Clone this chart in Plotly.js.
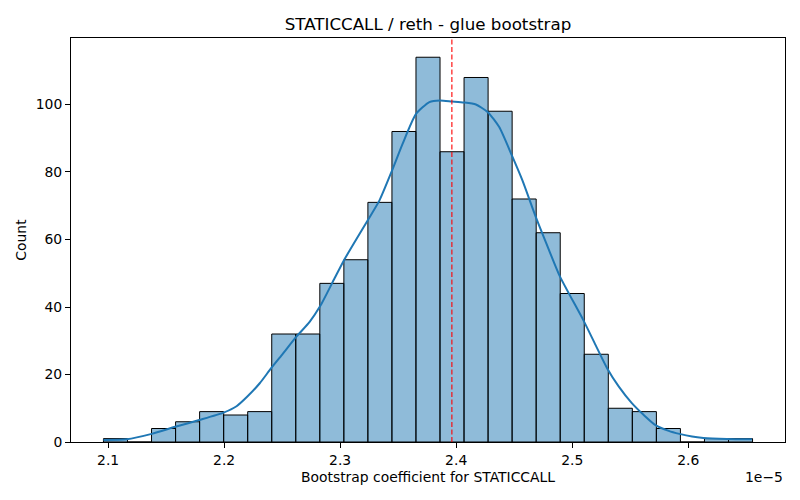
<!DOCTYPE html>
<html>
<head>
<meta charset="utf-8">
<script src="https://cdn.plot.ly/plotly-3.0.1.min.js"></script>
<style>html,body{margin:0;padding:0;background:#fff;}#chart{width:800px;height:500px;}</style>
</head>
<body>
<div id="chart"></div>
<script>
// Values in units of 1e-5
const binStart = 2.0960;
const binWidth = 0.02072;
const counts = [1, 0, 4, 6, 9, 8, 9, 32, 32, 47, 54, 71, 92, 114, 86, 108, 98, 72, 62, 44, 26, 10, 9, 4, 0, 1, 1];
const kdeX = [2.0960, 2.1161, 2.1376, 2.1579, 2.1785, 2.1995, 2.2107, 2.2198, 2.2307, 2.2404, 2.2507, 2.2623, 2.2737, 2.2832, 2.2952, 2.3032, 2.3238, 2.3339, 2.3448, 2.3539, 2.3654, 2.3769, 2.3861, 2.3964, 2.4067, 2.4170, 2.4273, 2.4371, 2.4480, 2.4571, 2.4686, 2.4801, 2.4895, 2.5096, 2.5202, 2.5302, 2.5402, 2.5512, 2.5617, 2.5718, 2.5832, 2.5924, 2.6033, 2.6131, 2.6334, 2.6549];
const kdeY = [0.6, 0.8, 2.4, 4.5, 6.5, 8.7, 10.6, 13.4, 17.4, 21.8, 26.2, 31.2, 35.6, 40.5, 48.5, 53.8, 65.7, 71.6, 80.5, 88.4, 97.2, 100.7, 101.2, 100.9, 100.6, 100.0, 97.7, 93.3, 84.9, 77.5, 66.7, 56.8, 49.0, 36.1, 28.7, 21.8, 16.4, 11.6, 8.0, 5.0, 3.3, 2.4, 1.6, 1.2, 0.9, 0.8];
const meanValue = 2.3963;
const xTicks = [2.1, 2.2, 2.3, 2.4, 2.5, 2.6];
const xTickText = ["2.1", "2.2", "2.3", "2.4", "2.5", "2.6"];
const yTicks = [0, 20, 40, 60, 80, 100];

const centers = counts.map((c, i) => binStart + binWidth * (i + 0.5));
const xMin = binStart, xMax = binStart + binWidth * counts.length;
const pad = (xMax - xMin) * 0.05;
const yMax = Math.max(...counts) * 1.05;

const font = {family: "DejaVu Sans, sans-serif", color: "#000"};

const traces = [
  {
    type: "bar",
    x: centers,
    y: counts,
    width: Array(counts.length).fill(binWidth),
    marker: {color: "rgba(31,119,180,0.5)", line: {color: "#000", width: 1}},
    hoverinfo: "x+y",
    showlegend: false
  },
  {
    type: "scatter",
    mode: "lines",
    x: kdeX,
    y: kdeY,
    line: {color: "#1f77b4", width: 2, shape: "spline", smoothing: 0.6},
    showlegend: false
  }
];

const layout = {
  width: 800,
  height: 500,
  margin: {l: 71, r: 15, t: 38, b: 58},
  paper_bgcolor: "#fff",
  plot_bgcolor: "#fff",
  font: Object.assign({size: 13.9}, font),
  bargap: 0,
  title: {
    text: "STATICCALL / reth - glue bootstrap",
    font: Object.assign({size: 16.7}, font),
    x: 0.535, xref: "container", xanchor: "center",
    y: 0.952, yref: "container", yanchor: "middle"
  },
  xaxis: {
    range: [xMin - pad, xMax + pad],
    tickmode: "array",
    tickvals: xTicks,
    ticktext: xTickText,
    ticks: "outside", ticklen: 5, tickwidth: 1, tickcolor: "#000",
    showline: true, mirror: true, linecolor: "#000", linewidth: 1,
    showgrid: false, zeroline: false,
    tickfont: Object.assign({size: 13.9}, font),
    title: {text: "Bootstrap coefficient for STATICCALL", font: Object.assign({size: 13.9}, font), standoff: 5}
  },
  yaxis: {
    range: [0, yMax],
    tickmode: "array",
    tickvals: yTicks,
    ticks: "outside", ticklen: 5, tickwidth: 1, tickcolor: "#000",
    showline: true, mirror: true, linecolor: "#000", linewidth: 1,
    showgrid: false, zeroline: false,
    tickfont: Object.assign({size: 13.9}, font),
    title: {text: "Count", font: Object.assign({size: 13.9}, font), standoff: 5}
  },
  shapes: [{
    type: "line", xref: "x", yref: "paper",
    x0: meanValue, x1: meanValue, y0: 0, y1: 1,
    line: {color: "#ff0000", width: 1.1, dash: "5px,2.5px"}
  }],
  annotations: [{
    text: "1e\u22125", xref: "paper", yref: "paper",
    x: 1, y: 0, xanchor: "right", yanchor: "top", yshift: -25,
    showarrow: false, font: Object.assign({size: 13.9}, font)
  }]
};

Plotly.newPlot("chart", traces, layout, {displayModeBar: false, staticPlot: true});
</script>
</body>
</html>
